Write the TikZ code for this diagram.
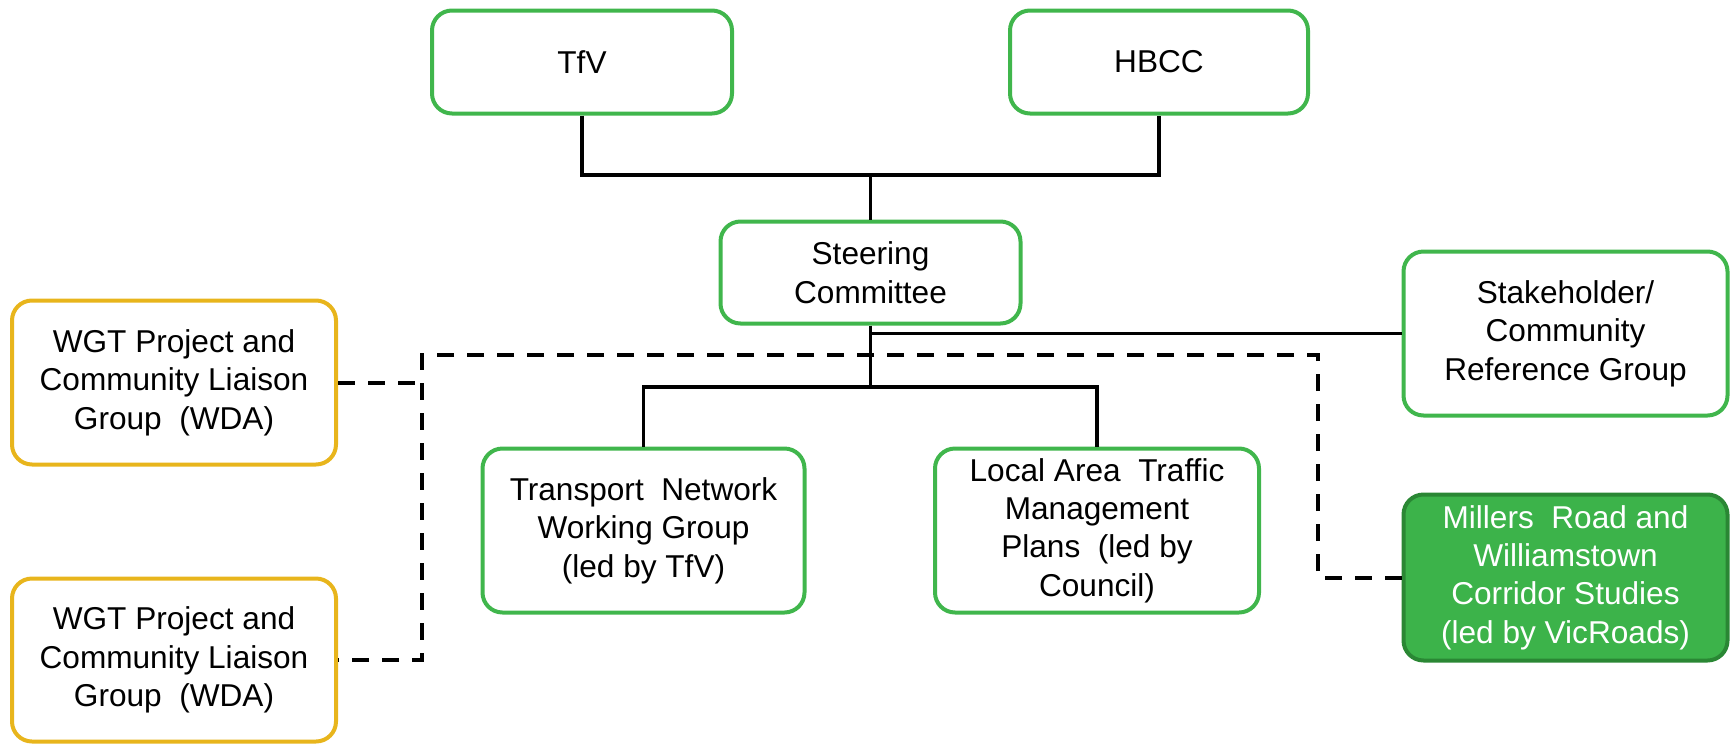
\documentclass[tikz,border=0pt]{standalone}
\usepackage{fontspec}
\setmainfont{Liberation Sans}
\definecolor{gborder}{RGB}{64,182,76}
\definecolor{yborder}{RGB}{232,181,28}
\definecolor{mfill}{RGB}{60,179,74}
\definecolor{mborder}{RGB}{42,135,52}
\tikzset{
  box/.style={draw=gborder, line width=2pt, rounded corners=10pt, fill=white, align=center,
    inner sep=0pt, font=\fontsize{15.8}{19.2}\selectfont},
  ybox/.style={box, draw=yborder},
  mbox/.style={box, draw=mborder, fill=mfill, text=white},
  conn/.style={line width=1.8pt, black},
  dconn/.style={line width=2pt, black, dash pattern=on 8.5pt off 6.5pt},
}
\begin{document}
\begin{tikzpicture}[x=0.5pt, y=-0.5pt]
\useasboundingbox (0,0) rectangle (1735,745);
\node[box, minimum width=150pt, minimum height=51.5pt] (tfv) at (582,62) {TfV};
\node[box, minimum width=149pt, minimum height=51.5pt] (hbcc) at (1159,62) {HBCC};
\node[box, minimum width=150pt, minimum height=51pt] (steer) at (870.5,272.5) {Steering\\Committee};
\node[box, minimum width=162pt, minimum height=82pt] (stake) at (1565.5,333.5) {Stakeholder/\\Community\\Reference Group};
\node[ybox, minimum width=162pt, minimum height=82pt] (wgta) at (174,382.5) {WGT Project and\\Community Liaison\\Group\ \ (WDA)};
\node[ybox, minimum width=162pt, minimum height=81.5pt] (wgtb) at (174,660) {WGT Project and\\Community Liaison\\Group\ \ (WDA)};
\node[box, minimum width=161pt, minimum height=82pt] (tnwg) at (643.5,530.5) {Transport\ \ Network\\Working Group\\(led by TfV)};
\node[box, minimum width=162pt, minimum height=82pt] (latm) at (1097,530.5) {Local Area\ \ Traffic\\Management\\Plans\ \ (led by\\Council)};
\node[mbox, minimum width=162pt, minimum height=83pt] (mill) at (1565.5,577.5) {Millers\ \ Road and\\Williamstown\\Corridor Studies\\(led by VicRoads)};
\coordinate (top) at (870.5,175);
\coordinate (mid) at (870.5,387);
\coordinate (da) at (422,355);
\coordinate (db) at (1318,355);
\draw[conn] (tfv.south) |- (top) -| (hbcc.south);
\draw[conn] (top) -- (steer.north);
\draw[conn] (steer.south) -- (mid);
\draw[conn] (tnwg.north) |- (mid) -| (latm.north);
\draw[conn] (stake.west) -- (steer.south |- stake.west);
\draw[dconn] (mill.west) -| (db) -- (da) |- (wgtb.east);
\draw[dconn] (wgta.east) -- (wgta.east -| da);
\end{tikzpicture}
\end{document}
